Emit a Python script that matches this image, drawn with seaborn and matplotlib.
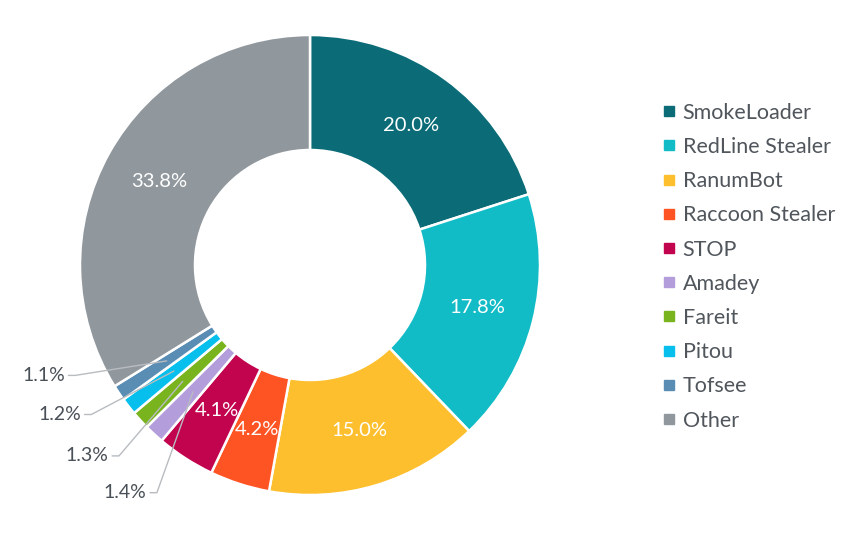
import numpy as np
import matplotlib
matplotlib.use("Agg")
import matplotlib.pyplot as plt
from matplotlib.lines import Line2D
import seaborn as sns

families = ['SmokeLoader', 'RedLine Stealer', 'RanumBot', 'Raccoon Stealer', 'STOP',
            'Amadey', 'Fareit', 'Pitou', 'Tofsee', 'Other']
shares = [20.0, 17.8, 15.0, 4.2, 4.1, 1.4, 1.3, 1.2, 1.1, 33.8]
colors = ['#0b6c78', '#12bcc6', '#fdbf2d', '#fe5323', '#c2044f',
          '#b39ddb', '#79b41f', '#06bfec', '#5a8db4', '#90979d']

sns.set_theme(style="white")
plt.rcParams['font.family'] = ['Lato', 'DejaVu Sans']

fig = plt.figure(figsize=(8.61, 5.41), dpi=100)
ax = fig.add_axes([0, 0, 1, 1])

wedges, _ = ax.pie(shares, colors=sns.color_palette(colors), startangle=90, counterclock=False,
                   radius=1.0, wedgeprops=dict(width=0.5, edgecolor='white', linewidth=1.8))

ax.set_xlim(-310 / 230, 551 / 230)
ax.set_ylim(-276 / 230, 265 / 230)
ax.axis('off')

total = sum(shares)
cum = np.cumsum([0] + shares[:-1])
small_y = [-0.99, -0.83, -0.65, -0.48]
k = 0
for i, (v, c0) in enumerate(zip(shares, cum)):
    mid = 90 - 360 * (c0 + v / 2) / total
    ang = np.deg2rad(mid)
    px, py = 0.75 * np.cos(ang), 0.75 * np.sin(ang)
    label = f"{v:.1f}%"
    if v >= 3:
        ax.text(px, py, label, ha='center', va='center', color='white', fontsize=14.5)
    else:
        ey = small_y[k]
        ex = -np.sqrt(1.21 ** 2 - ey ** 2) + 0.02 * k + 0.03
        ax.plot([px, ex, ex - 0.03], [py, ey, ey], color='#b8bcc0', lw=1.0, zorder=3)
        ax.text(ex - 0.045, ey, label, ha='right', va='center', color='#4a5057', fontsize=14)
        k += 1

handles = [Line2D([0], [0], marker='s', linestyle='none', markersize=7.5,
                  markerfacecolor=c, markeredgecolor=c) for c in colors]
leg = ax.legend(handles, families, loc='upper left', bbox_to_anchor=(0.753, 0.83),
                frameon=False, fontsize=15.5, labelspacing=0.66, handletextpad=0.2,
                handlelength=0.9, borderpad=0)
for t in leg.get_texts():
    t.set_color('#50565c')

fig.savefig('out.png', dpi=100)
